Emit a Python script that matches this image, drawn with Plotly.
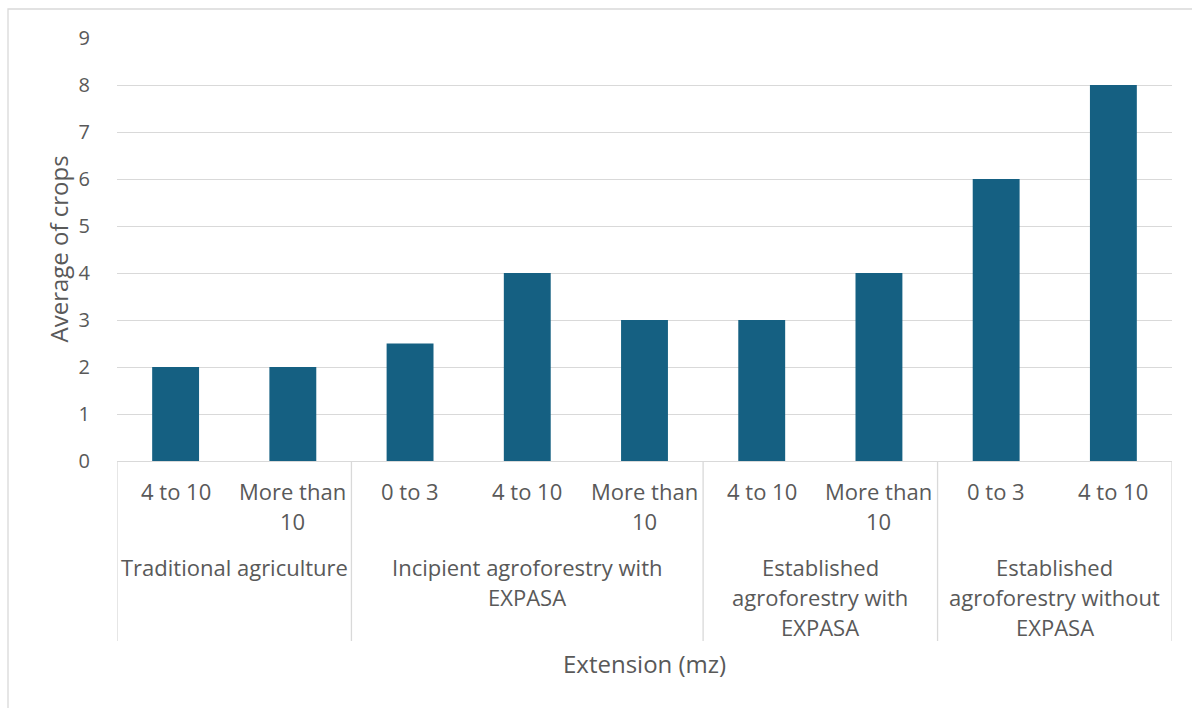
import plotly.graph_objects as go

# Data: average number of crops by extension class within each production system
groups = [
    "Traditional agriculture",
    "Incipient agroforestry with\nEXPASA",
    "Established\nagroforestry with\nEXPASA",
    "Established\nagroforestry without\nEXPASA",
]
group_sizes = [2, 3, 2, 2]
extensions = [
    "4 to 10", "More than\n10",
    "0 to 3", "4 to 10", "More than\n10",
    "4 to 10", "More than\n10",
    "0 to 3", "4 to 10",
]
avg_crops = [2, 2, 2.5, 4, 3, 3, 4, 6, 8]
y_ticks = list(range(0, 10))

W, H = 1192, 708
L, R, T, B = 117, 20, 38, 247
PLOT_H = H - T - B
PLOT_W = W - L - R

BAR = "#156082"
TXT = "#595959"
GRID = "#d9d9d9"
FONT = "Open Sans"
LABEL_SIZE = 22
TITLE_SIZE = 24


def py(pixel_y):
    """Pixel row -> paper y."""
    return (H - B - pixel_y) / PLOT_H


def px(pixel_x):
    """Pixel column -> paper x."""
    return (pixel_x - L) / PLOT_W


xs = list(range(len(avg_crops)))

fig = go.Figure(
    go.Bar(
        x=xs,
        y=avg_crops,
        width=0.4,
        marker=dict(color=BAR, line=dict(width=0)),
        hoverinfo="skip",
    )
)

annotations = []
LINE = 30

# first-level labels (extension classes)
for i, lab in enumerate(extensions):
    for k, part in enumerate(lab.split("\n")):
        annotations.append(dict(
            x=i, xref="x", y=py(491 + k * LINE), yref="paper",
            text=part, showarrow=False, xanchor="center", yanchor="middle",
            font=dict(family=FONT, size=LABEL_SIZE, color=TXT),
        ))

# second-level labels (production systems) and dividers
shapes = []
start = 0
bounds = [-0.5]
for g, n in zip(groups, group_sizes):
    center = start + (n - 1) / 2
    for k, part in enumerate(g.split("\n")):
        annotations.append(dict(
            x=center, xref="x", y=py(567 + k * LINE), yref="paper",
            text=part, showarrow=False, xanchor="center", yanchor="middle",
            font=dict(family=FONT, size=LABEL_SIZE, color=TXT),
        ))
    start += n
    bounds.append(start - 0.5)

for b in bounds:
    shapes.append(dict(
        type="line", xref="x", yref="paper", x0=b, x1=b,
        y0=0, y1=py(641), line=dict(color=GRID, width=1.3),
    ))

# chart frame
shapes.append(dict(
    type="rect", xref="paper", yref="paper",
    x0=px(8), x1=px(1205), y0=py(9), y1=py(720),
    line=dict(color=GRID, width=1.3), layer="below",
))

# axis titles
annotations.append(dict(
    x=px(644), y=py(663), xref="paper", yref="paper",
    text="Extension (mz)", showarrow=False, xanchor="center", yanchor="middle",
    font=dict(family=FONT, size=TITLE_SIZE, color=TXT),
))
annotations.append(dict(
    x=px(58), y=0.5, xref="paper", yref="paper",
    text="Average of crops", showarrow=False, textangle=-90,
    xanchor="center", yanchor="middle",
    font=dict(family=FONT, size=TITLE_SIZE, color=TXT),
))

fig.update_layout(
    width=W, height=H,
    margin=dict(l=L, r=R, t=T, b=B),
    paper_bgcolor="white", plot_bgcolor="white",
    showlegend=False,
    bargap=0.6,
    annotations=annotations,
    shapes=shapes,
    xaxis=dict(
        range=[-0.5, len(avg_crops) - 0.5],
        showticklabels=False, showgrid=False, zeroline=False,
        showline=True, linecolor=GRID, linewidth=1.3,
        fixedrange=True,
    ),
    yaxis=dict(
        range=[0, 9], tickvals=y_ticks,
        showgrid=True, gridcolor=GRID, gridwidth=1.3,
        zeroline=False, showline=False,
        ticks="outside", ticklen=0, ticklabelstandoff=22,
        tickfont=dict(family=FONT, size=20, color=TXT),
        fixedrange=True,
    ),
)

fig.write_html("out.html")
